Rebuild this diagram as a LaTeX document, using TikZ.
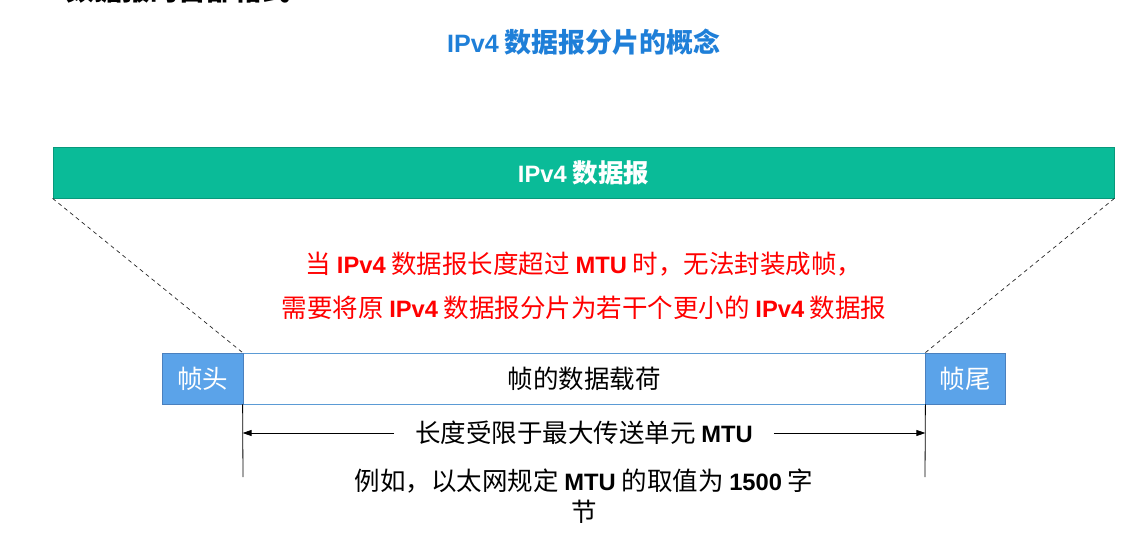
\documentclass[tikz,border=0pt]{standalone}
\usepackage{fontspec}
\setmainfont{Noto Sans CJK SC}
\newfontfamily\lat[Scale=0.93]{Liberation Sans}
\newcommand\en[1]{{\lat\bfseries #1}}
\usetikzlibrary{arrows.meta}
\definecolor{titleblue}{HTML}{1F7FD8}
\definecolor{dgreen}{HTML}{0ABB98}
\definecolor{dgreenb}{HTML}{08997C}
\definecolor{fblue}{HTML}{5BA3E9}
\definecolor{fblueb}{HTML}{4A80BE}
\definecolor{pblue}{HTML}{5B9BD5}
\definecolor{red0}{HTML}{FF0000}
\tikzset{
  txt/.style={inner sep=0pt, font=\fontsize{25.5}{30}\selectfont},
  greenbar/.style={draw=dgreenb, fill=dgreen, line width=0.8pt, inner sep=0pt, minimum height=51pt, text=white, font=\fontsize{25.5}{30}\selectfont\bfseries},
  endbox/.style={draw=fblueb, fill=fblue, line width=0.8pt, inner sep=0pt, minimum height=51pt, text=white, font=\fontsize{25.5}{30}\selectfont},
  paybox/.style={draw=pblue, fill=white, line width=0.8pt, inner sep=0pt, minimum height=51pt, font=\fontsize{25.5}{30}\selectfont},
  guide/.style={line width=0.7pt, black!85, dash pattern=on 4pt off 3.5pt},
  arr/.style={line width=0.8pt, -{Triangle[length=9pt,width=6pt]}},
  vline/.style={line width=0.8pt}
}
\begin{document}
\begin{tikzpicture}[x=1pt,y=-1pt]
\useasboundingbox (0,0) rectangle (1128,557);
\begin{scope}
\clip (0,0) rectangle (1128,557);
\node[anchor=base west, inner sep=0pt, font=\fontsize{28}{30}\selectfont\bfseries] (prev) at (66,0.5) {数据报的首部格式};
\end{scope}
\node[txt, text=titleblue, font=\fontsize{27}{30}\selectfont\bfseries] (title) at (584,42) {\en{IPv4} 数据报分片的概念};
\node[greenbar, minimum width=1061pt] (dgram) at (583.5,172.5) {\en{IPv4} 数据报};
\node[txt, text=red0] (r1) at (584,264) {当 \en{IPv4} 数据报长度超过 \en{MTU} 时，无法封装成帧，};
\node[txt, text=red0] (r2) at (584,308) {需要将原 \en{IPv4} 数据报分片为若干个更小的 \en{IPv4} 数据报};
\node[paybox, minimum width=682pt] (payload) at (584,378.5) {帧的数据载荷};
\node[endbox, minimum width=81pt] (head) at (202.5,378.5) {帧头};
\node[endbox, minimum width=80pt] (tail) at (965,378.5) {帧尾};
\draw[guide] (dgram.south west) -- (payload.north west);
\draw[guide] (dgram.south east) -- (payload.north east);
\coordinate (vl) at (243,477);
\coordinate (vr) at (925,477);
\draw[vline] (payload.south west) -- (vl);
\draw[vline] (payload.south east) -- (vr);
\node[txt, inner xsep=21pt] (len) at (584,433) {长度受限于最大传送单元 \en{MTU}};
\draw[arr] (len.west) -- (len.west -| payload.south west);
\draw[arr] (len.east) -- (len.east -| payload.south east);
\node[txt, align=center, font=\fontsize{25.5}{31}\selectfont] (eg) at (584,496) {例如，以太网规定 \en{MTU} 的取值为 \en{1500} 字\\节};
\end{tikzpicture}
\end{document}
